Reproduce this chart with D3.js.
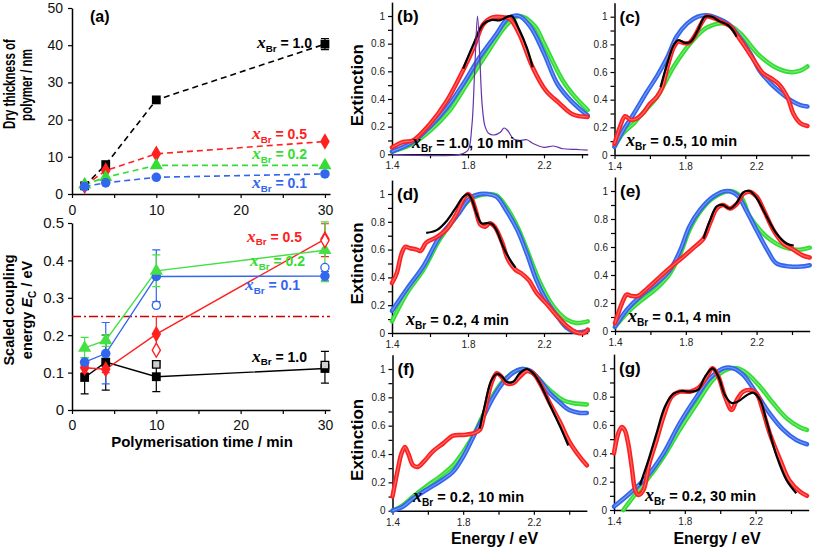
<!DOCTYPE html>
<html>
<head>
<meta charset="utf-8">
<script src="https://cdn.jsdelivr.net/npm/d3@7"></script>
<style>
body { margin: 0; background: #fff; }
svg { display: block; font-family: "Liberation Sans", Arial, sans-serif; }
</style>
</head>
<body>
<svg id="fig" width="813" height="549"></svg>
<script>
var RED = "#ff2020", GREEN = "#33dd33", BLUE = "#3366ee", PURPLE = "#6633aa";
var SANS = "'Liberation Sans', Arial, sans-serif", SERIF = "'Liberation Serif', 'Times New Roman', serif";

/* (a) polymerisation time series */
var times = [1.5, 4, 10, 30];
var thick10 = [2.2, 7.9, 25.3, 40.3];
var thick05 = [2.2, 6.3, 10.8, 14.1];
var thick02 = [2.5, 4.5, 7.7, 7.7];
var thick01 = [2.0, 3.0, 4.5, 5.4];
var thick10Err = [0, 0, 0, 1.5];

var ec10 = [0.087, 0.128, 0.089, 0.111], ec10Lo = [0.043, 0.053, 0.049, 0.072], ec10Hi = [0.13, 0.2, 0.13, 0.157];
var ec05 = [0.113, 0.109, 0.203, 0.457], ec05Lo = [0.1, 0.1, 0.16, 0.41], ec05Hi = [0.12, 0.117, 0.25, 0.498];
var ec02 = [0.166, 0.186, 0.372, 0.427], ec02Lo = [0.14, 0.17, 0.33, 0.343], ec02Hi = [0.194, 0.2, 0.415, 0.503];
var ec01 = [0.128, 0.151, 0.357, 0.358], ec01Lo = [0.12, 0.07, 0.29, 0.345], ec01Hi = [0.14, 0.234, 0.428, 0.37];
var openTimes = [10, 30];
var ec10Open = [0.122, 0.12], ec05Open = [0.16, 0.453], ec01Open = [0.28, 0.381];
var ecLimit = 0.25;

/* spectra, [energy eV, extinction] */
var bGreen = [[1.4,0.02],[1.5,0.07],[1.6,0.17],[1.7,0.31],[1.8,0.52],[1.9,0.73],[2.0,0.93],[2.07,1.0],[2.15,0.93],[2.2,0.8],[2.3,0.53],[2.36,0.42],[2.43,0.32]];
var bBlue = [[1.4,0.02],[1.51,0.09],[1.6,0.2],[1.69,0.34],[1.775,0.51],[1.86,0.7],[1.95,0.87],[2.0,0.97],[2.04,1.0],[2.07,1.0],[2.13,0.92],[2.2,0.73],[2.27,0.51],[2.34,0.39],[2.43,0.28]];
var bRed = [[1.4,0.05],[1.46,0.09],[1.51,0.1],[1.6,0.22],[1.69,0.39],[1.775,0.61],[1.83,0.77],[1.88,0.94],[1.93,0.99],[1.99,0.99],[2.02,0.98],[2.07,0.87],[2.14,0.63],[2.21,0.46],[2.28,0.37],[2.35,0.29],[2.43,0.27]];
var bBlack = [[1.775,0.62],[1.83,0.8],[1.88,0.94],[1.92,0.97],[1.97,0.97],[2.0,0.99],[2.03,1.0],[2.07,0.9],[2.11,0.77],[2.14,0.63]];
var bPurple = [[1.4,0],[1.76,0],[1.8,0.03],[1.82,0.2],[1.835,0.6],[1.85,1.0],[1.862,0.7],[1.875,0.35],[1.89,0.2],[1.91,0.15],[1.94,0.14],[1.97,0.16],[1.99,0.19],[2.01,0.17],[2.04,0.11],[2.07,0.1],[2.11,0.105],[2.14,0.08],[2.2,0.05],[2.25,0.06],[2.3,0.04],[2.37,0.035],[2.43,0.03]];

var cGreen = [[1.4,0.06],[1.45,0.16],[1.51,0.23],[1.55,0.29],[1.64,0.42],[1.735,0.64],[1.83,0.81],[1.92,0.92],[2.03,0.95],[2.11,0.88],[2.21,0.73],[2.3,0.64],[2.39,0.6],[2.45,0.61],[2.49,0.64]];
var cBlue = [[1.4,0.06],[1.45,0.18],[1.51,0.3],[1.58,0.45],[1.64,0.57],[1.7,0.71],[1.75,0.855],[1.81,0.95],[1.87,1.0],[1.92,1.01],[1.98,0.99],[2.04,0.95],[2.09,0.88],[2.17,0.73],[2.22,0.61],[2.28,0.52],[2.34,0.45],[2.39,0.4],[2.45,0.36],[2.49,0.35]];
var cRed = [[1.4,0.08],[1.43,0.2],[1.46,0.28],[1.49,0.255],[1.52,0.26],[1.56,0.3],[1.6,0.37],[1.64,0.42],[1.67,0.49],[1.7,0.64],[1.735,0.78],[1.76,0.82],[1.79,0.81],[1.82,0.81],[1.85,0.855],[1.89,0.95],[1.92,1.0],[1.96,0.99],[2.01,0.96],[2.055,0.93],[2.09,0.87],[2.15,0.76],[2.21,0.64],[2.24,0.59],[2.29,0.55],[2.33,0.51],[2.38,0.41],[2.41,0.3],[2.45,0.23],[2.49,0.21]];
var cBlack = [[1.66,0.49],[1.7,0.67],[1.735,0.795],[1.76,0.83],[1.8,0.81],[1.83,0.82],[1.87,0.9],[1.91,1.0],[1.95,1.0],[1.99,0.97],[2.04,0.94],[2.07,0.9],[2.09,0.855]];

var dGreen = [[1.4,0.084],[1.48,0.29],[1.565,0.455],[1.65,0.67],[1.74,0.84],[1.81,0.96],[1.9,1.0],[1.95,0.99],[2.0,0.91],[2.06,0.765],[2.11,0.6],[2.18,0.36],[2.25,0.19],[2.32,0.096],[2.37,0.072],[2.43,0.084]];
var dBlue = [[1.4,0.16],[1.48,0.32],[1.565,0.48],[1.65,0.69],[1.74,0.84],[1.81,0.97],[1.865,1.0],[1.9,1.0],[1.95,0.98],[2.0,0.885],[2.06,0.74],[2.11,0.57],[2.16,0.38],[2.21,0.24],[2.27,0.12],[2.32,0.036],[2.37,0.005],[2.43,0.017]];
var dRed = [[1.4,0.36],[1.425,0.43],[1.45,0.57],[1.47,0.62],[1.495,0.61],[1.53,0.6],[1.55,0.59],[1.58,0.65],[1.635,0.69],[1.69,0.75],[1.74,0.86],[1.775,0.96],[1.8,1.0],[1.815,0.98],[1.84,0.885],[1.865,0.78],[1.89,0.765],[1.915,0.79],[1.94,0.765],[1.98,0.65],[2.01,0.53],[2.05,0.455],[2.08,0.43],[2.12,0.38],[2.16,0.29],[2.21,0.215],[2.27,0.12],[2.32,0.05],[2.37,0.005],[2.41,0.0],[2.43,0.025]];
var dBlack = [[1.58,0.72],[1.635,0.74],[1.69,0.81],[1.74,0.91],[1.775,0.98],[1.8,1.0],[1.82,0.96],[1.845,0.86],[1.87,0.79],[1.9,0.79],[1.925,0.785],[1.95,0.74],[1.985,0.62],[2.02,0.53],[2.05,0.47]];

var eGreen = [[1.4,0.03],[1.466,0.126],[1.54,0.21],[1.635,0.305],[1.71,0.41],[1.77,0.555],[1.82,0.72],[1.88,0.85],[1.955,0.95],[2.05,1.0],[2.11,0.96],[2.16,0.82],[2.22,0.72],[2.28,0.65],[2.35,0.6],[2.43,0.58],[2.5,0.595]];
var eBlue = [[1.4,0.03],[1.466,0.15],[1.54,0.245],[1.635,0.34],[1.71,0.435],[1.77,0.58],[1.82,0.745],[1.88,0.865],[1.955,0.96],[2.03,1.0],[2.09,0.97],[2.14,0.865],[2.2,0.72],[2.26,0.58],[2.31,0.485],[2.39,0.46],[2.45,0.46],[2.5,0.47]];
var eRed = [[1.4,0.055],[1.44,0.2],[1.466,0.26],[1.494,0.25],[1.53,0.25],[1.57,0.29],[1.635,0.365],[1.71,0.45],[1.786,0.53],[1.84,0.59],[1.9,0.66],[1.937,0.77],[1.975,0.875],[2.01,0.9],[2.05,0.875],[2.09,0.91],[2.125,0.98],[2.16,0.995],[2.2,0.96],[2.24,0.865],[2.295,0.72],[2.35,0.625],[2.41,0.58],[2.46,0.54],[2.5,0.525]];
var eBlack = [[1.9,0.66],[1.937,0.79],[1.975,0.89],[2.01,0.9],[2.05,0.875],[2.09,0.92],[2.125,0.99],[2.16,1.0],[2.2,0.95],[2.256,0.82],[2.31,0.7],[2.37,0.625],[2.41,0.61]];

var fGreen = [[1.4,0],[1.46,0.04],[1.517,0.1],[1.59,0.17],[1.668,0.24],[1.743,0.32],[1.8,0.415],[1.857,0.53],[1.913,0.675],[1.97,0.815],[2.026,0.915],[2.083,0.975],[2.14,1.0],[2.196,0.97],[2.25,0.9],[2.31,0.83],[2.366,0.78],[2.42,0.76],[2.5,0.75]];
var fBlue = [[1.4,0],[1.46,0.03],[1.517,0.087],[1.59,0.146],[1.668,0.205],[1.743,0.275],[1.8,0.38],[1.857,0.52],[1.913,0.66],[1.97,0.8],[2.026,0.905],[2.083,0.975],[2.13,1.0],[2.177,0.99],[2.234,0.92],[2.29,0.83],[2.35,0.76],[2.4,0.71],[2.46,0.69],[2.5,0.69]];
var fRed = [[1.4,0.1],[1.43,0.29],[1.45,0.4],[1.47,0.45],[1.49,0.4],[1.517,0.32],[1.545,0.31],[1.58,0.35],[1.63,0.42],[1.687,0.475],[1.743,0.53],[1.8,0.535],[1.857,0.545],[1.894,0.57],[1.92,0.69],[1.96,0.9],[1.99,0.97],[2.017,0.945],[2.045,0.9],[2.083,0.9],[2.12,0.945],[2.16,0.985],[2.196,0.97],[2.234,0.9],[2.29,0.76],[2.35,0.62],[2.4,0.49],[2.46,0.38],[2.5,0.32]];
var fBlack = [[1.894,0.58],[1.92,0.73],[1.96,0.92],[1.99,0.965],[2.017,0.95],[2.045,0.91],[2.083,0.91],[2.12,0.97],[2.16,1.0],[2.196,0.97],[2.234,0.9],[2.29,0.75],[2.35,0.59],[2.395,0.46]];

var gGreen = [[1.453,0],[1.51,0.094],[1.585,0.21],[1.68,0.376],[1.77,0.565],[1.867,0.75],[1.96,0.92],[2.036,0.99],[2.093,1.0],[2.15,0.965],[2.225,0.87],[2.3,0.753],[2.376,0.647],[2.45,0.584],[2.49,0.565]];
var gBlue = [[1.4,0.024],[1.49,0.118],[1.585,0.235],[1.68,0.4],[1.77,0.61],[1.867,0.8],[1.942,0.93],[2.018,1.0],[2.074,1.0],[2.13,0.953],[2.206,0.82],[2.28,0.68],[2.357,0.565],[2.43,0.494],[2.49,0.464]];
var gRed = [[1.4,0.4],[1.424,0.54],[1.443,0.585],[1.46,0.565],[1.48,0.47],[1.5,0.305],[1.52,0.14],[1.537,0.106],[1.566,0.14],[1.6,0.33],[1.64,0.49],[1.68,0.66],[1.726,0.8],[1.77,0.835],[1.83,0.835],[1.876,0.86],[1.924,0.94],[1.957,1.0],[1.99,0.94],[2.027,0.8],[2.065,0.705],[2.093,0.775],[2.13,0.835],[2.168,0.847],[2.206,0.82],[2.24,0.705],[2.28,0.54],[2.34,0.35],[2.39,0.21],[2.45,0.13],[2.49,0.1]];
var gBlack = [[1.547,0.176],[1.594,0.35],[1.64,0.54],[1.688,0.73],[1.735,0.82],[1.78,0.84],[1.83,0.835],[1.876,0.85],[1.914,0.94],[1.957,1.0],[1.99,0.94],[2.027,0.81],[2.065,0.755],[2.1,0.765],[2.15,0.81],[2.187,0.828],[2.225,0.776],[2.26,0.635],[2.32,0.376],[2.375,0.21],[2.43,0.118]];

var svg = d3.select("#fig");
svg.append("rect").attr("width", 813).attr("height", 549).attr("fill", "#fff");

function styleAxis(g, fs) {
    g.attr("font-family", SANS).attr("font-size", fs);
    g.select(".domain").attr("stroke", "#000").attr("stroke-width", 1.5);
    g.selectAll(".tick line").attr("stroke", "#000").attr("stroke-width", 1.2);
    g.selectAll(".tick text").attr("fill", "#111");
}

// italic x with bold "Br" subscript, then the rest
function xbr(g, x, y, rest, color, size, anchor) {
    var t = g.append("text").attr("x", x).attr("y", y).attr("fill", color)
        .attr("font-weight", "bold").attr("font-size", size).attr("text-anchor", anchor || "start");
    t.append("tspan").attr("font-family", SERIF).attr("font-style", "italic")
        .attr("font-size", size * 1.25).text("x");
    t.append("tspan").attr("font-size", size * 0.7).attr("dy", size * 0.28).text("Br");
    t.append("tspan").attr("dy", -size * 0.28).text(" " + rest);
    return t;
}

function vtext(x, y, txt, size, squeeze) {
    return svg.append("text")
        .attr("transform", "translate(" + x + "," + y + ") rotate(-90) scale(" + (squeeze || 1) + ",1)")
        .attr("text-anchor", "middle").attr("font-weight", "bold").attr("font-size", size).text(txt);
}

/*
    panel (a)
*/
var xa = d3.scaleLinear().domain([0, 30.6]).range([72, 330]);
var yTop = d3.scaleLinear().domain([0, 50]).range([194, 8]);
var yBot = d3.scaleLinear().domain([0, 0.5]).range([410, 223]);
var tTicks = [0, 5, 10, 15, 20, 25, 30];

svg.append("g").attr("transform", "translate(0,194)")
    .call(d3.axisBottom(xa).tickValues(tTicks).tickSize(4).tickSizeOuter(0).tickPadding(7)
        .tickFormat(function(d){ return d % 10 === 0 ? d : ""; }))
    .call(styleAxis, 14);
svg.append("g").attr("transform", "translate(72,0)")
    .call(d3.axisLeft(yTop).tickValues([0, 10, 20, 30, 40, 50]).tickSize(4).tickSizeOuter(0).tickPadding(5))
    .call(styleAxis, 14);
svg.append("g").attr("transform", "translate(0,410)")
    .call(d3.axisBottom(xa).tickValues(tTicks).tickSize(4).tickSizeOuter(0).tickPadding(6)
        .tickFormat(function(d){ return d % 10 === 0 ? d : ""; }))
    .call(styleAxis, 14);
svg.append("g").attr("transform", "translate(72,0)")
    .call(d3.axisLeft(yBot).tickValues([0, 0.1, 0.2, 0.3, 0.4, 0.5]).tickSize(4).tickSizeOuter(0).tickPadding(4)
        .tickFormat(function(d){ return d === 0 ? "0" : d3.format(".1f")(d); }))
    .call(styleAxis, 15);

vtext(15, 84, "Dry thickness of", 16.5, 0.7);
vtext(31.5, 85, "polymer / nm", 16.5, 0.7);
vtext(14, 310, "Scaled coupling", 14.5);
var ecT = svg.append("text").attr("transform", "translate(31.5,310) rotate(-90)")
    .attr("text-anchor", "middle").attr("font-weight", "bold").attr("font-size", 14.5);
ecT.append("tspan").text("energy ");
ecT.append("tspan").attr("font-style", "italic").text("E");
ecT.append("tspan").attr("font-size", 10).attr("dy", 4).text("C");
ecT.append("tspan").attr("dy", -4).text(" / eV");

svg.append("text").attr("x", 202).attr("y", 446.5).attr("text-anchor", "middle")
    .attr("font-weight", "bold").attr("font-size", 15).text("Polymerisation time / min");
svg.append("text").attr("x", 90).attr("y", 22).attr("font-weight", "bold").attr("font-size", 16).text("(a)");

var symSq = d3.symbol().type(d3.symbolSquare).size(78);
var symDi = d3.symbol().type(d3.symbolDiamond).size(80);
var symTr = d3.symbol().type(d3.symbolTriangle).size(75);
var symCi = d3.symbol().type(d3.symbolCircle).size(72);

var topSeries = [
    {v: thick10, c: "#000", sym: symSq},
    {v: thick05, c: RED, sym: symDi},
    {v: thick02, c: GREEN, sym: symTr},
    {v: thick01, c: BLUE, sym: symCi}
];
var lineTop = d3.line().x(function(d){ return xa(d[0]); }).y(function(d){ return yTop(d[1]); });
topSeries.forEach(function(s){
    var pts = times.map(function(t, i){ return [t, s.v[i]]; });
    svg.append("path").attr("d", lineTop(pts)).attr("fill", "none")
        .attr("stroke", s.c).attr("stroke-width", 1.6).attr("stroke-dasharray", "6,4");
});
// error bar on the thickest film
times.forEach(function(t, i){
    if (!thick10Err[i]) return;
    var x = xa(t);
    svg.append("path").attr("d", "M" + (x - 4) + "," + yTop(thick10[i] + thick10Err[i]) + "h8M" + x + "," + yTop(thick10[i] + thick10Err[i]) +
        "V" + yTop(thick10[i] - thick10Err[i]) + "M" + (x - 4) + "," + yTop(thick10[i] - thick10Err[i]) + "h8")
        .attr("stroke", "#000").attr("stroke-width", 1.2).attr("fill", "none");
});
topSeries.forEach(function(s){
    svg.selectAll(null).data(times).enter().append("path")
        .attr("d", s.sym)
        .attr("transform", function(t, i){ return "translate(" + xa(t) + "," + yTop(s.v[i]) + ")"; })
        .attr("fill", s.c);
});

xbr(svg, 312, 48, "= 1.0", "#000", 14, "end");
xbr(svg, 307, 139, "= 0.5", RED, 14, "end");
xbr(svg, 307, 159, "= 0.2", GREEN, 14, "end");
xbr(svg, 307, 188, "= 0.1", BLUE, 14, "end");

// coupling energy
svg.append("line").attr("x1", xa(0)).attr("x2", 330).attr("y1", yBot(ecLimit)).attr("y2", yBot(ecLimit))
    .attr("stroke", "#cc0000").attr("stroke-width", 1.3).attr("stroke-dasharray", "9,3,2,3");

var botSeries = [
    {v: ec10, lo: ec10Lo, hi: ec10Hi, c: "#000", sym: symSq},
    {v: ec05, lo: ec05Lo, hi: ec05Hi, c: RED, sym: symDi},
    {v: ec01, lo: ec01Lo, hi: ec01Hi, c: BLUE, sym: symCi},
    {v: ec02, lo: ec02Lo, hi: ec02Hi, c: "#44e044", sym: symTr}
];
var lineBot = d3.line().x(function(d){ return xa(d[0]); }).y(function(d){ return yBot(d[1]); });
botSeries.forEach(function(s){
    var pts = times.map(function(t, i){ return [t, s.v[i]]; });
    svg.append("path").attr("d", lineBot(pts)).attr("fill", "none").attr("stroke", s.c).attr("stroke-width", 1.4);
    times.forEach(function(t, i){
        var x = xa(t), y1 = yBot(s.hi[i]), y0 = yBot(s.lo[i]);
        svg.append("path").attr("d", "M" + (x - 4) + "," + y1 + "h8M" + x + "," + y1 + "V" + y0 + "M" + (x - 4) + "," + y0 + "h8")
            .attr("stroke", s.c).attr("stroke-width", 1.2).attr("fill", "none");
    });
});
botSeries.forEach(function(s){
    svg.selectAll(null).data(times).enter().append("path")
        .attr("d", s.sym)
        .attr("transform", function(t, i){ return "translate(" + xa(t) + "," + yBot(s.v[i]) + ")"; })
        .attr("fill", s.c);
});
[{v: ec10Open, c: "#000", f: "#cfcfcf", sym: symSq},
 {v: ec05Open, c: RED, f: "#fff", sym: symDi},
 {v: ec01Open, c: BLUE, f: "#fff", sym: symCi}].forEach(function(s){
    svg.selectAll(null).data(openTimes).enter().append("path")
        .attr("d", s.sym)
        .attr("transform", function(t, i){ return "translate(" + xa(t) + "," + yBot(s.v[i]) + ") scale(0.85)"; })
        .attr("fill", s.f).attr("stroke", s.c).attr("stroke-width", 1.6);
});

xbr(svg, 302, 241.5, "= 0.5", RED, 14, "end");
xbr(svg, 305, 266, "= 0.2", GREEN, 14, "end");
xbr(svg, 300, 290, "= 0.1", BLUE, 14, "end");
xbr(svg, 307, 361.5, "= 1.0", "#000", 14, "end");

/*
    spectra (b)-(g)
*/
var panels = [
    {id: "(b)", x0: 392, px: 190, xmax: 2.43, y0: 154.3, y1: 16, ext: true,
     series: [bGreen, bBlue, bRed], black: bBlack, purple: bPurple, note: "= 1.0, 10 min", nx: 412, ny: 148},
    {id: "(c)", x0: 614.5, px: 177, xmax: 2.5, y0: 155, y1: 16.7,
     series: [cGreen, cBlue, cRed], black: cBlack, note: "= 0.5, 10 min", nx: 626, ny: 146},
    {id: "(d)", x0: 392, px: 190, xmax: 2.43, y0: 333, y1: 194, ext: true,
     series: [dGreen, dBlue, dRed], black: dBlack, note: "= 0.2, 4 min", nx: 406, ny: 325},
    {id: "(e)", x0: 615, px: 177, xmax: 2.5, y0: 331, y1: 191,
     series: [eGreen, eBlue, eRed], black: eBlack, note: "= 0.1, 4 min", nx: 628, ny: 322},
    {id: "(f)", x0: 392.5, px: 176.7, xmax: 2.5, y0: 510.7, y1: 369, ext: true, energy: true,
     series: [fGreen, fBlue, fRed], black: fBlack, note: "= 0.2, 10 min", nx: 413, ny: 502},
    {id: "(g)", x0: 614, px: 177, xmax: 2.5, y0: 510, y1: 368.3, energy: true,
     series: [gGreen, gBlue, gRed], black: gBlack, note: "= 0.2, 30 min", nx: 645, ny: 501}
];
var bandColors = [GREEN, BLUE, RED];
var yTickVals = d3.range(11).map(function(i){ return i / 10; });

panels.forEach(function(p){
    var x = d3.scaleLinear().domain([1.4, p.xmax]).range([p.x0, p.x0 + (p.xmax - 1.4) * p.px]);
    var y = d3.scaleLinear().domain([0, 1.1]).range([p.y0, p.y0 - 1.1 * (p.y0 - p.y1)]);
    var g = svg.append("g");
    var xTickVals = d3.range(0, Math.floor((p.xmax - 1.4) / 0.2 + 1e-6) + 1).map(function(i){ return 1.4 + i * 0.2; });

    g.append("g").attr("transform", "translate(0," + p.y0 + ")")
        .call(d3.axisBottom(x).tickValues(xTickVals).tickSize(4).tickSizeOuter(0).tickPadding(4)
            .tickFormat(function(d, i){ return i % 2 === 0 ? d3.format(".1f")(d) : ""; }))
        .call(styleAxis, 10);
    g.append("g").attr("transform", "translate(" + p.x0 + ",0)")
        .call(d3.axisLeft(y).tickValues(yTickVals).tickSize(4).tickSizeOuter(0).tickPadding(3)
            .tickFormat(function(d, i){ return i % 2 ? "" : (d === 0 ? "0" : d === 1 ? "1" : d3.format(".1f")(d)); }))
        .call(styleAxis, 10);
    g.selectAll(".tick text").attr("fill", "#222");

    var line = d3.line().curve(d3.curveCatmullRom.alpha(0.5))
        .x(function(d){ return x(d[0]); }).y(function(d){ return y(d[1]); });
    p.series.forEach(function(s, k){
        g.append("path").attr("d", line(s)).attr("fill", "none").attr("stroke", bandColors[k])
            .attr("stroke-width", 4.5).attr("stroke-linejoin", "round").attr("stroke-linecap", "round");
        g.append("path").attr("d", line(s)).attr("fill", "none").attr("stroke", "#fff")
            .attr("stroke-opacity", 0.35).attr("stroke-width", 1.1);
    });
    g.append("path").attr("d", line(p.black)).attr("fill", "none").attr("stroke", "#000")
        .attr("stroke-width", 2.2).attr("stroke-linejoin", "round");
    if (p.purple) {
        g.append("path").attr("d", line(p.purple)).attr("fill", "none").attr("stroke", PURPLE).attr("stroke-width", 1.2);
    }

    g.append("text").attr("x", p.x0 + 5).attr("y", p.y1 + 6).attr("font-weight", "bold").attr("font-size", 17).text(p.id);
    xbr(g, p.nx, p.ny, p.note, "#000", 14.5, "start");
    if (p.ext) vtext(363, (p.y0 + p.y1) / 2, "Extinction", 17);
    if (p.energy) {
        g.append("text").attr("x", p.x0 + (p.x0 < 500 ? 102 : 103)).attr("y", 544).attr("text-anchor", "middle")
            .attr("font-weight", "bold").attr("font-size", 16).text("Energy / eV");
    }
});
</script>
</body>
</html>
